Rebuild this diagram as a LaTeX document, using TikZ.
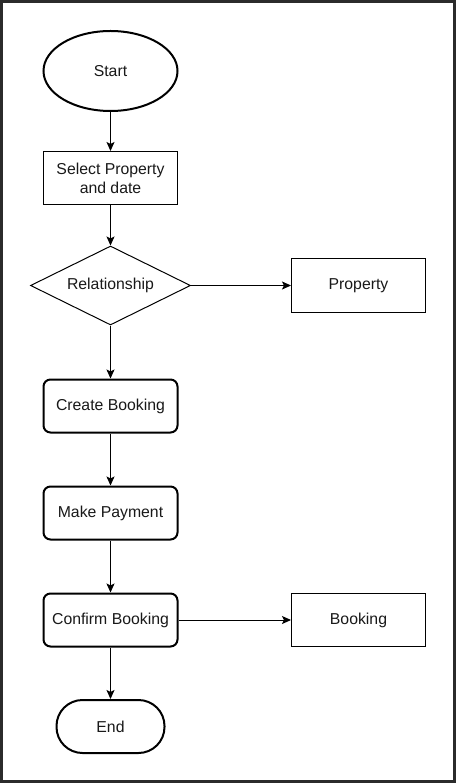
\documentclass[tikz,border=0pt]{standalone}
\usepackage{fontspec}
\setmainfont{Liberation Sans}
\usetikzlibrary{shapes.geometric,arrows.meta}
\begin{document}
\begin{tikzpicture}[x=1pt,y=-1pt,
  every node/.style={font=\fontsize{15.8}{19}\selectfont, text=black!90},
  thinbox/.style={draw=black, line width=1pt, minimum width=134pt, minimum height=53pt, inner sep=2pt, align=center},
  roundbox/.style={draw=black, line width=2pt, rounded corners=7pt, minimum width=134pt, minimum height=53pt, inner sep=1pt, align=center},
  conn/.style={draw=black, line width=1pt, -{Stealth[length=9pt,width=8pt,inset=2pt]}}
]
\fill[black!83] (0,0) rectangle (456,783);
\fill[white] (3,3) rectangle (453,780);
\useasboundingbox (0,0) rectangle (456,783);

\node[draw=black, line width=2pt, ellipse, minimum width=134pt, minimum height=80pt] (start) at (110.5,71) {Start};
\node[thinbox] (select) at (110.5,178) {Select Property\\and date};
\node[draw=black, line width=1pt, diamond, aspect=2.03, minimum width=160pt, minimum height=79pt, inner sep=0pt] (rel) at (110.5,285.5) {Relationship};
\node[thinbox] (prop) at (358.5,285.5) {Property};
\node[roundbox] (create) at (110.5,406) {Create Booking};
\node[roundbox] (pay) at (110.5,513) {Make Payment};
\node[roundbox] (confirm) at (110.5,620) {Confirm Booking};
\node[thinbox] (booking) at (358.5,620) {Booking};
\node[draw=black, line width=2pt, rounded corners=26pt, minimum width=108pt, minimum height=53pt] (end) at (110.5,726.5) {End};

\draw[conn] (start) -- (select);
\draw[conn] (select) -- (rel);
\draw[conn] (rel.east) -- (prop);
\draw[conn] (rel.south) -- (create);
\draw[conn] (create) -- (pay);
\draw[conn] (pay) -- (confirm);
\draw[conn] (confirm) -- (booking);
\draw[conn] (confirm) -- (end);
\end{tikzpicture}
\end{document}
